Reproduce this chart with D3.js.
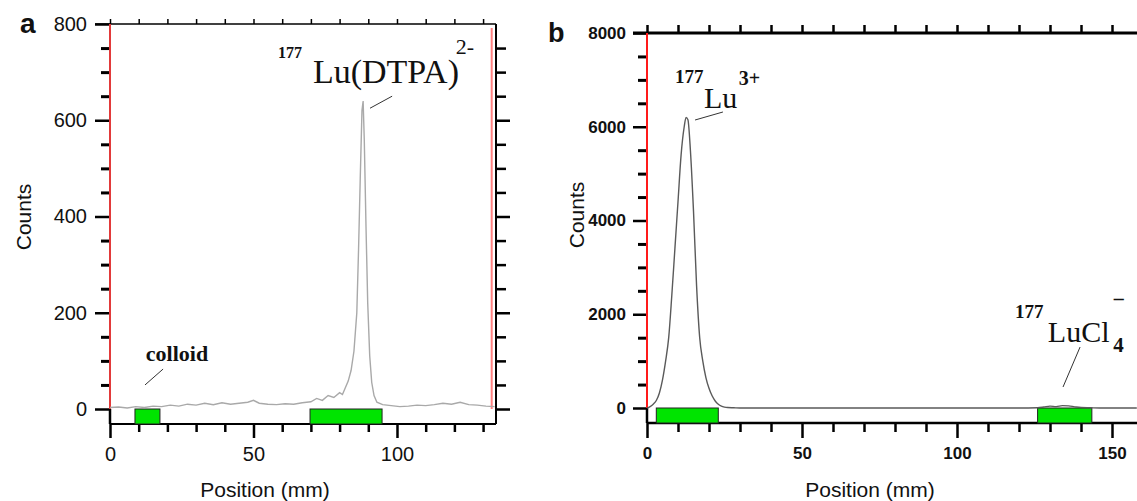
<!DOCTYPE html>
<html>
<head>
<meta charset="utf-8">
<script src="https://cdn.jsdelivr.net/npm/d3@7"></script>
<style>
  body { margin: 0; background: #fff; }
  svg { display: block; }
</style>
</head>
<body>
<div id="chart"></div>
<script>
// panel a: 177Lu(DTPA) radiochromatogram
var posA = [0, 3, 6, 9, 12, 15, 18, 21, 24, 27, 30, 33, 36, 39, 42, 45, 48, 50, 52, 55,
  58, 61, 64, 67, 70, 72, 74, 76, 78, 80, 81, 82, 83, 84, 85, 86, 86.6, 87.2, 87.8, 88.2,
  88.6, 89.2, 89.8, 90.5, 91.2, 92, 93, 95, 98, 101, 104, 107, 110, 113, 116, 119, 122, 125, 128, 131, 134];
var countsA = [3, 4, 2, 5, 3, 6, 5, 8, 6, 10, 8, 12, 9, 13, 10, 12, 14, 18, 12, 10,
  9, 11, 10, 13, 15, 22, 18, 28, 24, 34, 30, 44, 58, 80, 120, 200, 330, 480, 620, 640,
  560, 380, 220, 110, 55, 28, 14, 9, 7, 5, 6, 8, 7, 9, 12, 10, 14, 9, 8, 6, 5];
var regionsA = [[8.7, 17.4], [69.7, 94.8]];
var redA = [0, 133];
var yTicksA = [0, 200, 400, 600, 800];
var xTicksA = [0, 50, 100];

// panel b: 177Lu3+ / 177LuCl4-
var posB = [0, 1, 2, 3, 4, 5, 6, 7, 8, 9, 10, 11, 12, 12.6, 13.2, 14, 15, 16, 17, 18, 19, 20,
  21, 22, 23, 24, 25, 26, 28, 30, 60, 90, 120, 126, 128, 130, 132, 134, 136, 138, 140, 143, 146, 158];
var countsB = [0, 30, 80, 160, 320, 600, 1000, 1500, 2400, 3400, 4400, 5400, 6000, 6200, 6150, 5500, 4200, 2600, 1500, 1000, 650, 420,
  260, 150, 80, 40, 20, 10, 5, 0, 0, 0, 0, 5, 20, 40, 30, 50, 45, 25, 10, 5, 0, 0];
var regionsB = [[3, 23], [126, 143.5]];
var redB = [0];
var yTicksB = [0, 2000, 4000, 6000, 8000];
var xTicksB = [0, 50, 100, 150];

var W = 1137, H = 501;
var sans = 'Liberation Sans, Arial, sans-serif';
var serif = 'Liberation Serif, Times New Roman, serif';
var green = '#00e400';

var svg = d3.select('#chart').append('svg')
  .attr('width', W)
  .attr('height', H);

svg.append('rect').attr('width', W).attr('height', H).attr('fill', '#fff');

function zip(a, b) {
  return a.map(function(d, i) { return [d, b[i]]; });
}

function styleAxis(g, width, size, weight) {
  g.select('.domain').remove();
  g.selectAll('.tick line').attr('stroke', '#000').attr('stroke-width', width);
  g.selectAll('.tick text')
    .attr('font-family', sans)
    .attr('font-size', size)
    .attr('font-weight', weight)
    .attr('fill', '#111');
  return g;
}

function hline(x1, x2, y, w, col) {
  svg.append('line').attr('x1', x1).attr('x2', x2).attr('y1', y).attr('y2', y)
    .attr('stroke', col || '#000').attr('stroke-width', w);
}
function vline(x, y1, y2, w, col) {
  svg.append('line').attr('x1', x).attr('x2', x).attr('y1', y1).attr('y2', y2)
    .attr('stroke', col || '#000').attr('stroke-width', w);
}

function label(txt, x, y, font, size, weight) {
  return svg.append('text').attr('x', x).attr('y', y)
    .attr('font-family', font).attr('font-size', size)
    .attr('font-weight', weight || 'normal').attr('fill', '#111')
    .text(txt);
}

var fmt = d3.format('d');

// ---------- panel a ----------
var xA = d3.scaleLinear().domain([0, 134.5]).range([110, 496]);
var yA = d3.scaleLinear().domain([0, 800]).range([409, 24]);
var bottomA = yA(0) + 15;

// top axis
hline(xA(0) - 15, xA(134.5), yA(800), 1.5);
styleAxis(svg.append('g').attr('transform', 'translate(0,' + yA(800) + ')')
  .call(d3.axisTop(xA).tickValues(d3.range(0, 131, 10)).tickSize(5).tickFormat('')), 1.5);

// left axis
styleAxis(svg.append('g').attr('transform', 'translate(' + xA(0) + ',0)')
  .call(d3.axisLeft(yA).tickValues(yTicksA).tickSize(15).tickPadding(8).tickFormat(fmt)), 2.5, 20, 'normal');
styleAxis(svg.append('g').attr('transform', 'translate(' + xA(0) + ',0)')
  .call(d3.axisLeft(yA).tickValues(d3.range(50, 800, 50).filter(function(d) { return d % 200; }))
    .tickSize(9).tickFormat('')), 3);

// right axis
vline(xA(134.5), yA(800), bottomA, 2);
styleAxis(svg.append('g').attr('transform', 'translate(' + xA(134.5) + ',0)')
  .call(d3.axisRight(yA).tickValues([0, 200, 400, 600]).tickSize(14).tickFormat('')), 2.5);
styleAxis(svg.append('g').attr('transform', 'translate(' + xA(134.5) + ',0)')
  .call(d3.axisRight(yA).tickValues(d3.range(50, 800, 50).filter(function(d) { return d % 200; }))
    .tickSize(10).tickFormat('')), 2.5);

// bottom axis
hline(xA(0), xA(134.5), bottomA, 1.8);
vline(xA(0), yA(0), bottomA, 2.5);
styleAxis(svg.append('g').attr('transform', 'translate(0,' + bottomA + ')')
  .call(d3.axisBottom(xA).tickValues(xTicksA).tickSize(14).tickPadding(9).tickFormat(fmt)), 2.5, 20, 'normal');
styleAxis(svg.append('g').attr('transform', 'translate(0,' + bottomA + ')')
  .call(d3.axisBottom(xA).tickValues(d3.range(10, 131, 10).filter(function(d) { return d % 50; }))
    .tickSize(8).tickFormat('')), 2.5);

// regions of interest
svg.append('g').selectAll('rect').data(regionsA).join('rect')
  .attr('x', function(d) { return xA(d[0]); })
  .attr('width', function(d) { return xA(d[1]) - xA(d[0]); })
  .attr('y', yA(0))
  .attr('height', bottomA - yA(0))
  .attr('fill', green).attr('stroke', '#222').attr('stroke-width', 1);

// red markers
svg.append('g').selectAll('line').data(redA).join('line')
  .attr('x1', function(d) { return xA(d); }).attr('x2', function(d) { return xA(d); })
  .attr('y1', function(d, i) { return yA(800) + i * 4; }).attr('y2', yA(0))
  .attr('stroke', function(d, i) { return i ? '#ff8080' : '#e23a3a'; })
  .attr('stroke-width', 2);

// curve
svg.append('path').datum(zip(posA, countsA))
  .attr('fill', 'none').attr('stroke', '#a9a9a9').attr('stroke-width', 1.4)
  .attr('d', d3.line().x(function(d) { return xA(d[0]); }).y(function(d) { return yA(d[1]); }));

// annotations
label('177', xA(58.5), yA(729), serif, 16, 'bold');
label('Lu(DTPA)', xA(70.7), yA(677), serif, 34);
label('2-', xA(120.5), yA(738), serif, 22);
svg.append('line').attr('x1', xA(90.6)).attr('y1', yA(625)).attr('x2', xA(98.3)).attr('y2', yA(650))
  .attr('stroke', '#333').attr('stroke-width', 1);
label('colloid', xA(12.5), yA(100), serif, 22, 'bold');
svg.append('line').attr('x1', xA(12.2)).attr('y1', yA(50)).attr('x2', xA(18.5)).attr('y2', yA(83))
  .attr('stroke', '#333').attr('stroke-width', 1);

label('a', 20, 33, sans, 28, 'bold');
label('Counts', 0, 0, sans, 21).attr('text-anchor', 'middle')
  .attr('transform', 'translate(31,217) rotate(-90)');
label('Position (mm)', 265, 497, sans, 21).attr('text-anchor', 'middle');

// ---------- panel b ----------
var xB = d3.scaleLinear().domain([0, 150]).range([647, 1112]);
var yB = d3.scaleLinear().domain([0, 8000]).range([408, 33]);
var bottomB = yB(0) + 15;
var xEndB = xB.invert(W);

// top axis
hline(xB(0) - 14, W, yB(8000), 3);
styleAxis(svg.append('g').attr('transform', 'translate(0,' + yB(8000) + ')')
  .call(d3.axisTop(xB).tickValues(d3.range(0, xEndB, 10)).tickSize(8).tickFormat('')), 2.5);

// left axis
styleAxis(svg.append('g').attr('transform', 'translate(' + xB(0) + ',0)')
  .call(d3.axisLeft(yB).tickValues(yTicksB).tickSize(14).tickPadding(7).tickFormat(fmt)), 2.5, 17, 'bold');
styleAxis(svg.append('g').attr('transform', 'translate(' + xB(0) + ',0)')
  .call(d3.axisLeft(yB).tickValues(d3.range(500, 8000, 500).filter(function(d) { return d % 2000; }))
    .tickSize(9).tickFormat('')), 3);

// bottom axis
hline(xB(0), W, bottomB, 2.5);
vline(xB(0), yB(0), bottomB, 2.5);
styleAxis(svg.append('g').attr('transform', 'translate(0,' + bottomB + ')')
  .call(d3.axisBottom(xB).tickValues(xTicksB).tickSize(15).tickPadding(9).tickFormat(fmt)), 2.5, 17, 'bold');
styleAxis(svg.append('g').attr('transform', 'translate(0,' + bottomB + ')')
  .call(d3.axisBottom(xB).tickValues(d3.range(10, xEndB, 10).filter(function(d) { return d % 50; }))
    .tickSize(9).tickFormat('')), 2.5);

// regions of interest
svg.append('g').selectAll('rect').data(regionsB).join('rect')
  .attr('x', function(d) { return xB(d[0]); })
  .attr('width', function(d) { return xB(d[1]) - xB(d[0]); })
  .attr('y', yB(0))
  .attr('height', bottomB - yB(0))
  .attr('fill', green).attr('stroke', '#222').attr('stroke-width', 1);

// red marker
svg.append('g').selectAll('line').data(redB).join('line')
  .attr('x1', function(d) { return xB(d); }).attr('x2', function(d) { return xB(d); })
  .attr('y1', yB(8000)).attr('y2', yB(0))
  .attr('stroke', '#ff1a1a').attr('stroke-width', 2);

// curve
svg.append('path').datum(zip(posB, countsB))
  .attr('fill', 'none').attr('stroke', '#5a5a5a').attr('stroke-width', 1.4)
  .attr('d', d3.line().curve(d3.curveMonotoneX)
    .x(function(d) { return xB(d[0]); }).y(function(d) { return yB(d[1]); }));

// annotations
label('177', xB(9.0), yB(6933), serif, 19, 'bold');
label('Lu', xB(18.4), yB(6400), serif, 30);
label('3+', xB(29.6), yB(6900), serif, 20, 'bold');
svg.append('line').attr('x1', xB(15.5)).attr('y1', yB(6144)).attr('x2', xB(24.5)).attr('y2', yB(6315))
  .attr('stroke', '#333').attr('stroke-width', 1);
label('177', xB(118.7), yB(1920), serif, 19, 'bold');
label('LuCl', xB(129.3), yB(1408), serif, 30);
label('4', xB(150.4), yB(1200), serif, 21, 'bold');
label('\u2013', xB(150.6), yB(2200), serif, 20, 'bold');
svg.append('line').attr('x1', xB(139.7)).attr('y1', yB(1301)).attr('x2', xB(134.2)).attr('y2', yB(448))
  .attr('stroke', '#333').attr('stroke-width', 1);

label('b', 548, 42, sans, 27, 'bold');
label('Counts', 0, 0, sans, 21).attr('text-anchor', 'middle')
  .attr('transform', 'translate(584,215) rotate(-90)');
label('Position (mm)', 870, 497, sans, 21).attr('text-anchor', 'middle');
</script>
</body>
</html>
